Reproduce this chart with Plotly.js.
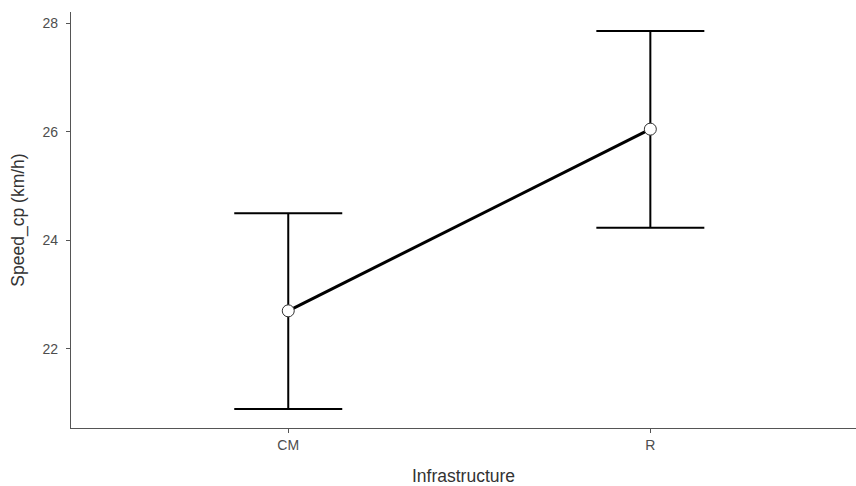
<!DOCTYPE html>
<html>
<head>
<meta charset="utf-8">
<script src="https://cdn.plot.ly/plotly-3.0.1.min.js"></script>
<style>html,body{margin:0;padding:0;background:#fff;}#chart{width:856px;height:486px;}</style>
</head>
<body>
<div id="chart"></div>
<script>
const categories = ["CM", "R"];
const meanSpeed = [22.70, 26.05];
const errPlus = [1.80, 1.81];
const errMinus = [1.81, 1.82];

const trace = {
  x: categories,
  y: meanSpeed,
  type: 'scatter',
  mode: 'lines+markers',
  line: {color: '#000000', width: 3},
  marker: {size: 12, color: '#ffffff', line: {color: '#333333', width: 1}},
  error_y: {
    type: 'data', symmetric: false,
    array: errPlus, arrayminus: errMinus,
    color: '#000000', thickness: 2, width: 54
  },
  hoverinfo: 'x+y'
};

const layout = {
  width: 856, height: 486,
  margin: {l: 71, r: 0, t: 12, b: 58},
  paper_bgcolor: '#ffffff', plot_bgcolor: '#ffffff',
  showlegend: false,
  font: {family: 'Liberation Sans, Arial, sans-serif', color: '#4d4d4d'},
  xaxis: {
    type: 'category',
    range: [-0.6, 1.568],
    showgrid: false, zeroline: false,
    showline: true, linecolor: '#555555', linewidth: 1.2,
    ticks: 'outside', ticklen: 4, tickcolor: '#555555', tickwidth: 1.2,
    tickfont: {size: 14, color: '#4d4d4d'},
    title: {text: 'Infrastructure', font: {size: 17.5, color: '#333333'}, standoff: 17}
  },
  yaxis: {
    range: [20.54, 28.21],
    tickvals: [22, 24, 26, 28],
    showgrid: false, zeroline: false,
    showline: true, linecolor: '#555555', linewidth: 1.2,
    ticks: 'outside', ticklen: 4, tickcolor: '#555555', tickwidth: 1.2,
    ticklabelstandoff: 5,
    tickfont: {size: 14, color: '#4d4d4d'},
    title: {text: 'Speed_cp (km/h)', font: {size: 17.5, color: '#333333'}, standoff: 13}
  }
};

Plotly.newPlot('chart', [trace], layout, {displayModeBar: false, staticPlot: true});
</script>
</body>
</html>
